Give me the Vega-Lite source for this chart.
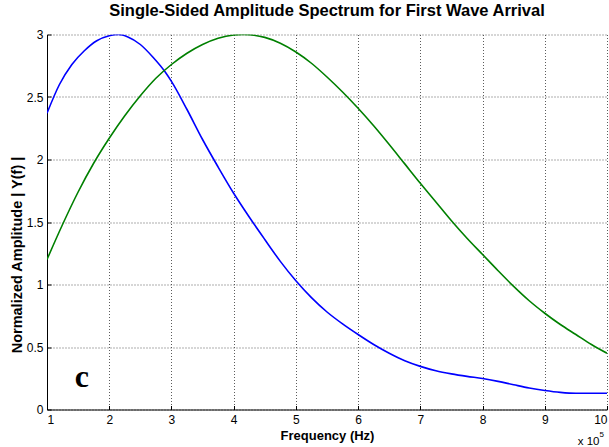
{
  "$schema": "https://vega.github.io/schema/vega-lite/v6.json",
  "width": 560,
  "height": 375,
  "autosize": {"type": "none"},
  "padding": {"left": 47, "top": 34.5, "right": 2, "bottom": 38},
  "background": "white",
  "title": {
    "text": "Single-Sided Amplitude Spectrum for First Wave Arrival",
    "font": "Liberation Sans",
    "fontSize": 16.5,
    "fontWeight": "bold",
    "color": "black",
    "anchor": "middle",
    "frame": "group",
    "offset": 9
  },
  "config": {
    "view": {"stroke": null},
    "axis": {
      "labelFont": "Liberation Sans",
      "labelFontSize": 12,
      "labelColor": "black",
      "titleFont": "Liberation Sans",
      "titleFontWeight": "bold",
      "titleColor": "black",
      "domainColor": "black",
      "domainWidth": 1,
      "tickColor": "black",
      "tickSize": -4,
      "grid": true,
      "gridColor": "#333",
      "gridDash": [1, 2],
      "gridWidth": 1,
      "gridOpacity": 0.8
    }
  },
  "datasets": {
    "spectrum": [
      {"f": 1.0, "amp": 2.37, "series": "A"},
      {"f": 1.2, "amp": 2.60, "series": "A"},
      {"f": 1.4, "amp": 2.76, "series": "A"},
      {"f": 1.6, "amp": 2.87, "series": "A"},
      {"f": 1.8, "amp": 2.95, "series": "A"},
      {"f": 2.0, "amp": 2.99, "series": "A"},
      {"f": 2.15, "amp": 3.0, "series": "A"},
      {"f": 2.3, "amp": 2.98, "series": "A"},
      {"f": 2.5, "amp": 2.92, "series": "A"},
      {"f": 2.7, "amp": 2.82, "series": "A"},
      {"f": 2.9, "amp": 2.70, "series": "A"},
      {"f": 3.0, "amp": 2.625, "series": "A"},
      {"f": 3.25, "amp": 2.40, "series": "A"},
      {"f": 3.5, "amp": 2.16, "series": "A"},
      {"f": 3.75, "amp": 1.94, "series": "A"},
      {"f": 4.0, "amp": 1.73, "series": "A"},
      {"f": 4.25, "amp": 1.54, "series": "A"},
      {"f": 4.5, "amp": 1.36, "series": "A"},
      {"f": 4.75, "amp": 1.185, "series": "A"},
      {"f": 5.0, "amp": 1.03, "series": "A"},
      {"f": 5.25, "amp": 0.895, "series": "A"},
      {"f": 5.5, "amp": 0.78, "series": "A"},
      {"f": 5.75, "amp": 0.685, "series": "A"},
      {"f": 6.0, "amp": 0.60, "series": "A"},
      {"f": 6.25, "amp": 0.52, "series": "A"},
      {"f": 6.5, "amp": 0.45, "series": "A"},
      {"f": 6.75, "amp": 0.39, "series": "A"},
      {"f": 7.0, "amp": 0.345, "series": "A"},
      {"f": 7.25, "amp": 0.31, "series": "A"},
      {"f": 7.5, "amp": 0.285, "series": "A"},
      {"f": 7.75, "amp": 0.265, "series": "A"},
      {"f": 8.0, "amp": 0.248, "series": "A"},
      {"f": 8.25, "amp": 0.225, "series": "A"},
      {"f": 8.5, "amp": 0.198, "series": "A"},
      {"f": 8.75, "amp": 0.172, "series": "A"},
      {"f": 9.0, "amp": 0.152, "series": "A"},
      {"f": 9.25, "amp": 0.137, "series": "A"},
      {"f": 9.5, "amp": 0.13, "series": "A"},
      {"f": 10.0, "amp": 0.13, "series": "A"},
      {"f": 1.0, "amp": 1.20, "series": "B"},
      {"f": 1.25, "amp": 1.48, "series": "B"},
      {"f": 1.5, "amp": 1.74, "series": "B"},
      {"f": 1.75, "amp": 1.97, "series": "B"},
      {"f": 2.0, "amp": 2.17, "series": "B"},
      {"f": 2.25, "amp": 2.35, "series": "B"},
      {"f": 2.5, "amp": 2.51, "series": "B"},
      {"f": 2.75, "amp": 2.65, "series": "B"},
      {"f": 3.0, "amp": 2.76, "series": "B"},
      {"f": 3.25, "amp": 2.85, "series": "B"},
      {"f": 3.5, "amp": 2.92, "series": "B"},
      {"f": 3.75, "amp": 2.97, "series": "B"},
      {"f": 4.0, "amp": 2.996, "series": "B"},
      {"f": 4.15, "amp": 3.0, "series": "B"},
      {"f": 4.5, "amp": 2.977, "series": "B"},
      {"f": 4.75, "amp": 2.93, "series": "B"},
      {"f": 5.0, "amp": 2.86, "series": "B"},
      {"f": 5.25, "amp": 2.77, "series": "B"},
      {"f": 5.5, "amp": 2.66, "series": "B"},
      {"f": 5.75, "amp": 2.54, "series": "B"},
      {"f": 6.0, "amp": 2.41, "series": "B"},
      {"f": 6.25, "amp": 2.27, "series": "B"},
      {"f": 6.5, "amp": 2.12, "series": "B"},
      {"f": 6.75, "amp": 1.965, "series": "B"},
      {"f": 7.0, "amp": 1.81, "series": "B"},
      {"f": 7.25, "amp": 1.66, "series": "B"},
      {"f": 7.5, "amp": 1.51, "series": "B"},
      {"f": 7.75, "amp": 1.37, "series": "B"},
      {"f": 8.0, "amp": 1.24, "series": "B"},
      {"f": 8.25, "amp": 1.11, "series": "B"},
      {"f": 8.5, "amp": 0.985, "series": "B"},
      {"f": 8.75, "amp": 0.87, "series": "B"},
      {"f": 9.0, "amp": 0.77, "series": "B"},
      {"f": 9.25, "amp": 0.68, "series": "B"},
      {"f": 9.5, "amp": 0.60, "series": "B"},
      {"f": 9.75, "amp": 0.52, "series": "B"},
      {"f": 10.0, "amp": 0.45, "series": "B"}
    ],
    "panel": [{"f": 1.56, "amp": 0.26, "label": "c"}],
    "mantissa": [{"f": 9.88, "amp": -0.262, "label": "x 10"}],
    "power": [{"f": 9.88, "amp": -0.204, "label": "5"}]
  },
  "layer": [
    {
      "data": {"name": "spectrum"},
      "mark": {"type": "line", "strokeWidth": 1.6, "interpolate": "monotone", "clip": true},
      "encoding": {
        "x": {
          "field": "f",
          "type": "quantitative",
          "scale": {"domain": [1, 10], "nice": false, "zero": false},
          "axis": {
            "values": [1, 2, 3, 4, 5, 6, 7, 8, 9, 10],
            "format": "d",
            "labelPadding": 9,
            "title": "Frequency (Hz)",
            "titleFontSize": 13,
            "titleY": 30,
            "titleBaseline": "alphabetic"
          }
        },
        "y": {
          "field": "amp",
          "type": "quantitative",
          "scale": {"domain": [0, 3], "nice": false},
          "axis": {
            "values": [0, 0.5, 1, 1.5, 2, 2.5, 3],
            "format": "~g",
            "labelPadding": 8,
            "title": "Normalized Amplitude | Y(f) |",
            "titleFontSize": 14.5,
            "titleX": -30,
            "titleY": 220,
            "titleBaseline": "middle"
          }
        },
        "color": {
          "field": "series",
          "type": "nominal",
          "scale": {"domain": ["A", "B"], "range": ["#0000ff", "#008000"]},
          "legend": null
        }
      }
    },
    {
      "data": {"name": "panel"},
      "mark": {"type": "text", "font": "Liberation Serif", "fontSize": 32, "fontWeight": "bold", "color": "black", "align": "center", "baseline": "middle"},
      "encoding": {
        "x": {"field": "f", "type": "quantitative"},
        "y": {"field": "amp", "type": "quantitative"},
        "text": {"field": "label"}
      }
    },
    {
      "data": {"name": "mantissa"},
      "mark": {"type": "text", "font": "Liberation Sans", "fontSize": 11.5, "color": "black", "align": "right", "baseline": "middle"},
      "encoding": {
        "x": {"field": "f", "type": "quantitative"},
        "y": {"field": "amp", "type": "quantitative"},
        "text": {"field": "label"}
      }
    },
    {
      "data": {"name": "power"},
      "mark": {"type": "text", "font": "Liberation Sans", "fontSize": 8, "color": "black", "align": "left", "baseline": "middle"},
      "encoding": {
        "x": {"field": "f", "type": "quantitative"},
        "y": {"field": "amp", "type": "quantitative"},
        "text": {"field": "label"}
      }
    }
  ]
}
